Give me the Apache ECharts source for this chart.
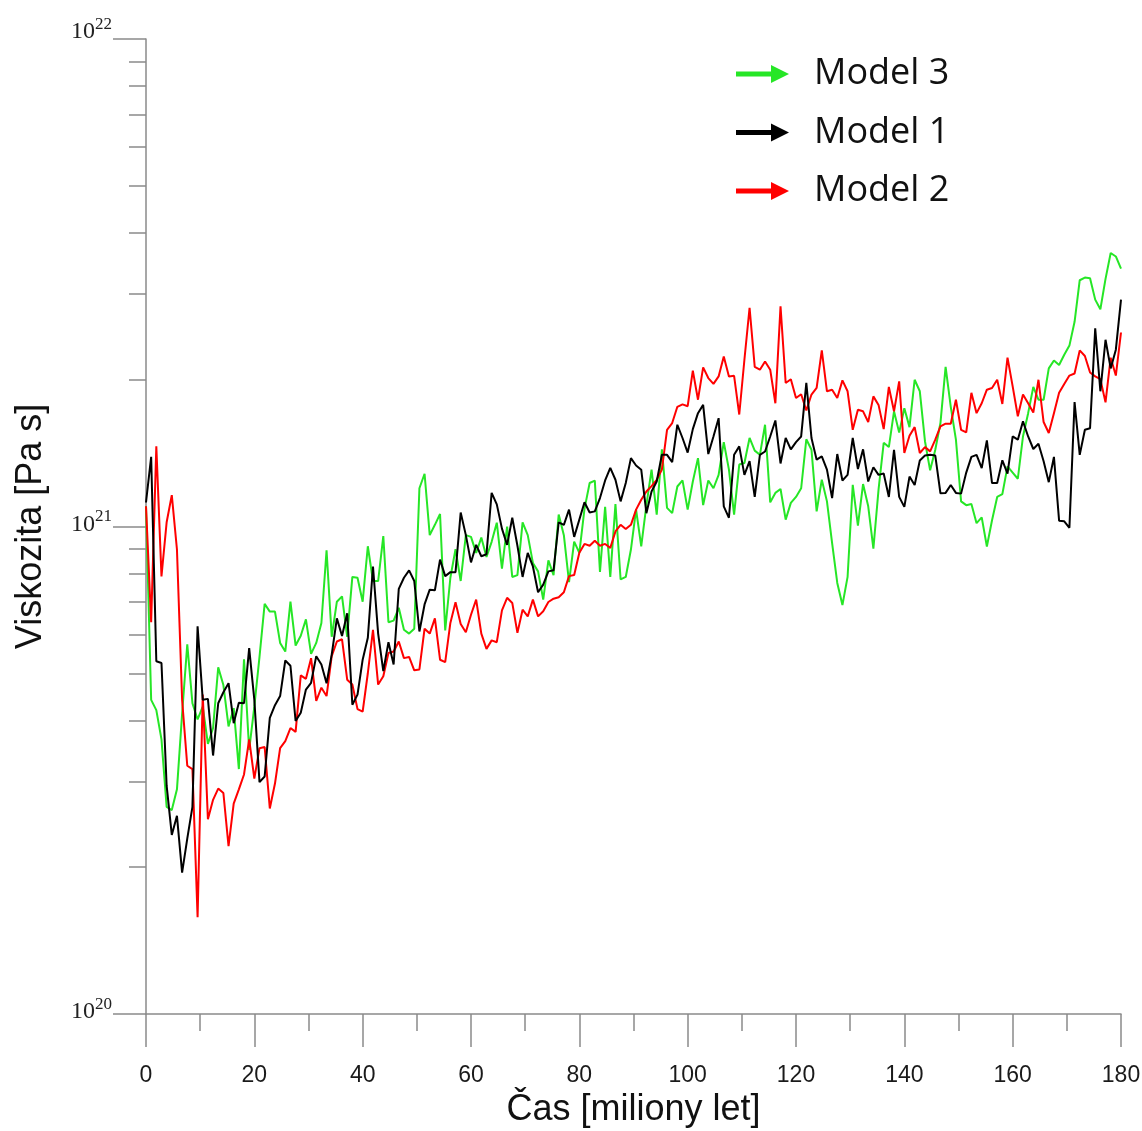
<!DOCTYPE html>
<html>
<head>
<meta charset="utf-8">
<title>Viskozita</title>
<script src="https://cdn.jsdelivr.net/npm/echarts@6/dist/echarts.min.js"></script>
<style>
  html, body { margin: 0; padding: 0; background: #ffffff; }
  #chart { width: 1142px; height: 1131px; }
</style>
</head>
<body>
<div id="chart"></div>
<script>
// Time span of the runs, million years; samples are evenly spaced over it
const timeStart = 0;
const timeEnd = 180;

// Mean viscosity, in units of 1e20 Pa s
const model1 = [
  11.2, 13.9, 5.29, 5.25, 2.94, 2.33, 2.55, 1.95, 2.29, 2.66,
  6.24, 4.41, 4.43, 3.39, 4.34, 4.57, 4.77, 3.95, 4.35, 4.34,
  5.63, 4.41, 2.99, 3.07, 4.05, 4.30, 4.49, 5.31, 5.18, 3.99,
  4.15, 4.63, 4.78, 5.42, 5.21, 4.77, 5.46, 6.48, 5.96, 6.64,
  4.31, 4.52, 5.33, 5.91, 8.28, 6.03, 5.05, 5.79, 5.21, 7.45,
  7.85, 8.13, 7.73, 6.09, 6.92, 7.42, 7.40, 8.55, 7.91, 8.06,
  8.06, 10.68, 9.60, 8.44, 9.17, 8.69, 8.77, 11.72, 11.1, 9.9,
  9.17, 10.42, 9.13, 7.88, 8.83, 8.28, 7.33, 7.60, 8.09, 8.13,
  10.20, 10.08, 10.83, 9.52, 10.33, 11.21, 10.68, 10.74, 11.44, 12.43,
  13.19, 12.47, 11.26, 12.28, 13.81, 13.34, 13.08, 10.65, 11.80, 12.37,
  14.03, 14.03, 13.55, 16.17, 15.19, 14.18, 15.84, 17.08, 17.76, 14.08,
  15.30, 16.68, 11.0, 10.42, 14.03, 14.60, 12.76, 13.62, 11.5, 14.03,
  14.25, 15.30, 16.5, 13.47, 15.19, 14.4, 14.90, 15.30, 19.7, 15.19,
  13.71, 13.93, 13.08, 11.44, 14.08, 12.43, 12.76, 15.19, 13.12, 14.4,
  12.37, 13.23, 12.76, 12.84, 11.5, 14.37, 11.5, 10.97, 12.66, 12.17,
  13.66, 13.98, 14.03, 13.98, 11.7, 11.72, 12.17, 11.72, 11.68, 12.9,
  13.89, 14.03, 13.18, 15.02, 12.28, 12.28, 13.67, 12.84, 15.30, 15.07,
  16.43, 15.30, 14.42, 14.78, 13.61, 12.33, 13.89, 10.28, 10.25, 9.94,
  18.0, 14.03, 15.79, 15.91, 25.5, 18.94, 24.16, 21.1, 23.05, 29.2
];

const model2 = [
  11.0, 6.36, 14.6, 7.9, 10.2, 11.6, 8.97, 4.41, 3.23, 3.18,
  1.58, 4.52, 2.51, 2.75, 2.90, 2.84, 2.21, 2.70, 2.89, 3.10,
  3.66, 3.04, 3.51, 3.53, 2.64, 2.97, 3.51, 3.63, 3.86, 3.79,
  4.95, 4.87, 5.37, 4.39, 4.67, 4.49, 5.42, 5.81, 5.87, 4.85,
  4.74, 4.22, 4.17, 5.00, 6.14, 4.74, 4.93, 5.50, 5.54, 5.81,
  5.37, 5.40, 5.07, 5.09, 6.17, 6.03, 6.48, 5.33, 5.27, 6.34,
  6.99, 6.31, 6.07, 6.59, 7.08, 6.03, 5.61, 5.84, 5.79, 6.73,
  7.14, 6.97, 6.05, 6.75, 6.54, 7.08, 6.54, 6.70, 7.00, 7.11,
  7.16, 7.33, 7.91, 7.95, 8.83, 9.21, 9.13, 9.35, 9.13, 9.21,
  9.04, 9.77, 10.08, 9.88, 10.08, 10.83, 11.35, 11.80, 12.1, 12.47,
  13.08, 15.79, 16.3, 17.6, 17.8, 17.65, 20.88, 18.2, 21.2, 20.16,
  19.62, 20.32, 22.31, 20.32, 20.38, 16.97, 21.98, 28.1, 21.25, 20.97,
  21.81, 20.97, 17.9, 28.3, 19.7, 20.05, 18.35, 18.68, 17.3, 18.65,
  19.24, 22.97, 18.94, 19.08, 18.35, 19.94, 18.94, 15.79, 17.36, 17.23,
  16.38, 18.49, 17.76, 15.84, 19.33, 17.23, 19.85, 14.15, 15.35, 15.99,
  14.15, 14.55, 14.26, 15.07, 16.04, 16.25, 16.25, 18.2, 15.79, 15.6,
  18.8, 17.08, 17.9, 19.08, 19.24, 20.0, 17.84, 22.2, 19.38, 16.83,
  18.65, 17.9, 17.13, 20.0, 16.38, 15.55, 17.08, 18.8, 19.6, 20.4,
  20.6, 22.97, 22.38, 20.7, 20.32, 20.05, 17.97, 22.2, 20.4, 25.0
];

const model3 = [
  11.0, 4.41, 4.20, 3.66, 2.66, 2.62, 2.89, 4.13, 5.73, 4.34,
  4.02, 4.27, 3.58, 3.86, 5.14, 4.73, 3.89, 4.24, 3.18, 5.34,
  3.48, 4.27, 5.40, 6.94, 6.69, 6.69, 5.77, 5.54, 7.01, 5.70,
  5.97, 6.45, 5.48, 5.77, 6.34, 8.94, 5.94, 7.01, 7.19, 5.94,
  7.88, 7.85, 7.01, 9.11, 7.73, 7.73, 9.56, 6.36, 6.41, 6.81,
  6.14, 6.03, 6.17, 11.98, 12.83, 9.60, 10.08, 10.61, 6.12, 7.85,
  8.98, 7.73, 9.60, 9.52, 8.83, 9.49, 8.66, 9.3, 10.18, 8.2,
  10.0, 7.88, 7.95, 10.20, 9.60, 8.42, 8.09, 7.08, 8.52, 7.95,
  10.58, 9.60, 7.69, 9.31, 8.83, 10.87, 12.28, 12.42, 8.07, 10.97,
  7.88, 11.12, 7.79, 7.88, 8.97, 10.83, 9.10, 11.06, 13.08, 10.58,
  14.4, 10.92, 10.65, 12.08, 12.43, 10.83, 12.37, 13.81, 11.06, 12.43,
  11.98, 12.76, 14.9, 13.08, 10.58, 13.40, 13.5, 15.19, 14.31, 14.03,
  16.17, 11.21, 11.72, 11.94, 10.33, 11.18, 11.5, 11.98, 15.1, 14.37,
  10.74, 12.47, 11.26, 9.25, 7.66, 6.90, 7.88, 12.17, 10.04, 12.22,
  11.0, 9.01, 11.9, 14.85, 14.55, 17.23, 15.58, 17.49, 15.99, 20.0,
  18.94, 14.96, 13.04, 14.37, 16.30, 21.25, 17.6, 15.07, 11.26, 11.06,
  11.12, 10.16, 10.44, 9.10, 10.30, 11.5, 11.65, 13.28, 12.9, 12.53,
  15.30, 17.08, 19.33, 18.2, 18.2, 21.1, 21.9, 21.45, 22.5, 23.5,
  26.3, 32.0, 32.4, 32.3, 29.2, 27.9, 32.2, 36.4, 35.8, 33.8
];

// Axis ranges and ticks
const xTickStep = 20;
const yDecades = [20, 21, 22];                 // labelled powers of ten
const minorMantissas = [2, 3, 4, 5, 6, 7, 8, 9];
const legendOrder = ['Model 3', 'Model 1', 'Model 2'];

const UNIT = 1e20;
const axisGrey = '#8a8a8a';
const colors = { 'Model 1': '#000000', 'Model 2': '#ff0000', 'Model 3': '#26e626' };

const sampleTimes = model1.map((_, i) => timeStart + i * (timeEnd - timeStart) / (model1.length - 1));
const toPairs = arr => arr.map((v, i) => [sampleTimes[i], v * UNIT]);

const minorTickValues = [];
for (let k = 0; k < yDecades.length - 1; k++) {
  for (const m of minorMantissas) minorTickValues.push(m * Math.pow(10, yDecades[k]));
}
const topDecade = yDecades[yDecades.length - 1];
const yMin = Math.pow(10, yDecades[0]);
const yMax = Math.pow(10, topDecade);

const makeSeries = (name, arr) => ({
  name,
  type: 'line',
  data: toPairs(arr),
  showSymbol: false,
  symbol: 'none',
  color: colors[name],
  itemStyle: { color: colors[name] },
  lineStyle: { width: 2, color: colors[name] },
  emphasis: { disabled: true }
});

// "10" with a superscript exponent; the top label sits on its tick
const decadeLabel = v => {
  const e = Math.round(Math.log10(v));
  const base = '{b|10}{s|' + e + '}';
  return e === topDecade ? base + '\n{gap|}' : base;
};

const chart = echarts.init(document.getElementById('chart'), null, { renderer: 'canvas' });

chart.setOption({
  animation: false,
  backgroundColor: '#ffffff',
  grid: { left: 146, right: 21, top: 39, bottom: 117, containLabel: false, outerBoundsMode: 'none' },
  legend: {
    data: legendOrder,
    orient: 'vertical',
    left: 736,
    top: 56,
    padding: 0,
    itemGap: 22.5,
    itemWidth: 53,
    itemHeight: 18,
    icon: 'path://M0,6.5L35,6.5L35,0L53,9L35,18L35,11.5L0,11.5Z',
    itemStyle: { borderWidth: 0 },
    selectedMode: false,
    textStyle: {
      fontFamily: 'Open Sans',
      fontSize: 36,
      lineHeight: 36,
      color: '#111111',
      padding: [0, 0, 0, 20]
    }
  },
  xAxis: {
    type: 'value',
    min: timeStart,
    max: timeEnd,
    interval: xTickStep,
    name: 'Čas [miliony let]',
    nameLocation: 'middle',
    nameGap: 77,
    nameTextStyle: { fontFamily: 'Liberation Sans', fontSize: 36, color: '#111111' },
    axisLine: { show: true, onZero: false, lineStyle: { color: axisGrey, width: 1.5 } },
    axisTick: { show: true, length: 33, lineStyle: { color: axisGrey, width: 1.5 } },
    minorTick: { show: true, splitNumber: 2, length: 17, lineStyle: { color: axisGrey, width: 1.5 } },
    axisLabel: { margin: 50, fontFamily: 'Liberation Sans', fontSize: 23, color: '#1a1a1a' },
    splitLine: { show: false },
    minorSplitLine: { show: false }
  },
  yAxis: [
    {
      type: 'log',
      logBase: 10,
      min: yMin,
      max: yMax,
      name: 'Viskozita [Pa s]',
      nameLocation: 'middle',
      nameGap: 97,
      nameTextStyle: { fontFamily: 'Liberation Sans', fontSize: 36, color: '#111111' },
      axisLine: { show: true, lineStyle: { color: axisGrey, width: 1.5 } },
      axisTick: { show: true, length: 33, lineStyle: { color: axisGrey, width: 1.5 } },
      axisLabel: {
        margin: 34,
        padding: [0, 0, 8, 0],
        formatter: decadeLabel,
        rich: {
          b: { fontFamily: 'Liberation Serif', fontSize: 24, lineHeight: 28, color: '#222222', verticalAlign: 'bottom' },
          s: { fontFamily: 'Liberation Serif', fontSize: 17, lineHeight: 15, color: '#222222', verticalAlign: 'top' },
          gap: { fontSize: 1, lineHeight: 10 }
        }
      },
      splitLine: { show: false }
    },
    {
      // minor decade ticks (2..9 x 10^n)
      type: 'log',
      logBase: 10,
      min: yMin,
      max: yMax,
      position: 'left',
      axisLine: { show: false },
      axisLabel: { show: false },
      splitLine: { show: false },
      axisTick: { show: true, length: 17, customValues: minorTickValues, lineStyle: { color: axisGrey, width: 1.5 } }
    }
  ],
  series: [
    makeSeries('Model 3', model3),
    makeSeries('Model 2', model2),
    makeSeries('Model 1', model1)
  ]
});
</script>
</body>
</html>
